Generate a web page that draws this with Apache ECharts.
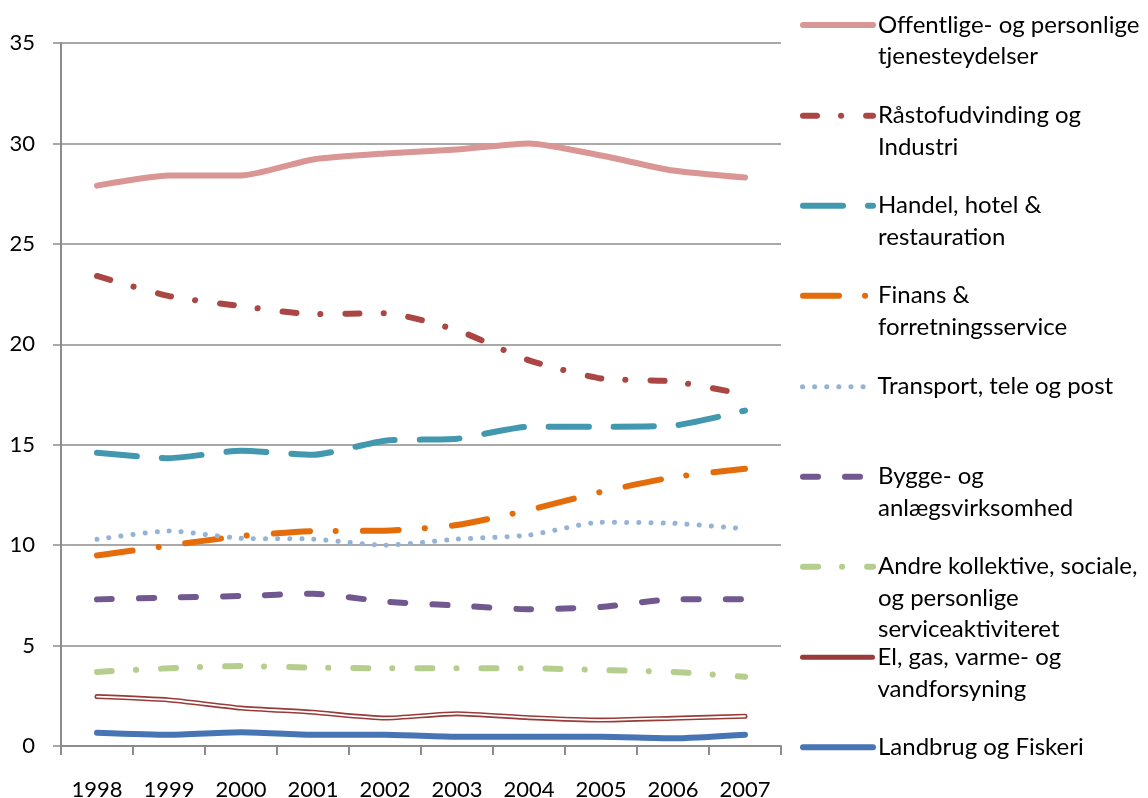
<!DOCTYPE html>
<html>
<head>
<meta charset="utf-8">
<title>Beskæftigelse fordelt på erhverv 1998-2007</title>
<script src="https://cdn.jsdelivr.net/npm/echarts@6/dist/echarts.min.js"></script>
<style>
    html, body { margin: 0; padding: 0; background: #fff; }
    #chart { width: 1148px; height: 798px; }
</style>
</head>
<body>
<div id="chart"></div>
<script>
(function(){

    // ---- data ----
    let years = ['1998', '1999', '2000', '2001', '2002', '2003', '2004', '2005', '2006', '2007'];

    let offentlige = [27.9, 28.4, 28.4, 29.2, 29.5, 29.7, 30.0, 29.4, 28.65, 28.3];
    let raastof    = [23.4, 22.4, 21.9, 21.5, 21.55, 20.7, 19.2, 18.3, 18.15, 17.5];
    let handel     = [14.6, 14.33, 14.7, 14.5, 15.2, 15.3, 15.9, 15.9, 15.95, 16.7];
    let finans     = [9.48, 9.98, 10.45, 10.7, 10.72, 11.0, 11.75, 12.65, 13.38, 13.8];
    let transport  = [10.29, 10.7, 10.34, 10.3, 10.0, 10.3, 10.5, 11.14, 11.09, 10.82];
    let bygge      = [7.3, 7.39, 7.47, 7.58, 7.19, 6.99, 6.81, 6.92, 7.3, 7.3];
    let andre      = [3.69, 3.87, 3.98, 3.9, 3.87, 3.87, 3.87, 3.78, 3.69, 3.45];
    let elgas      = [2.46, 2.29, 1.89, 1.68, 1.39, 1.61, 1.41, 1.29, 1.38, 1.48];
    let landbrug   = [0.66, 0.56, 0.68, 0.56, 0.56, 0.46, 0.46, 0.46, 0.38, 0.56];

    let yTicks = [0, 5, 10, 15, 20, 25, 30, 35];

    let legendLabels = [
        'Offentlige- og personlige\ntjenesteydelser',
        'Råstofudvinding og\nIndustri',
        'Handel, hotel &\nrestauration',
        'Finans &\nforretningsservice',
        'Transport, tele og post',
        'Bygge- og\nanlægsvirksomhed',
        'Andre kollektive, sociale,\nog personlige\nserviceaktiviteret',
        'El, gas, varme- og\nvandforsyning',
        'Landbrug og Fiskeri'
    ];

    // ---- styling ----
    let FONT = 'Lato, "Open Sans", sans-serif';
    let LINE_H = 31.5;
    let AXIS_GRAY = '#8c8c8c';

    let _series = [
        { name: 'Offentlige', data: offentlige, color: '#D99694', width: 6, type: 'solid' },
        { name: 'Raastof',    data: raastof,    color: '#AA4643', width: 6, type: [14, 24, 0.1, 25] },
        { name: 'Handel',     data: handel,     color: '#4198AF', width: 6, type: [40, 25] },
        { name: 'Finans',     data: finans,     color: '#E46C0A', width: 6, type: [36, 26, 0.1, 27] },
        { name: 'Transport',  data: transport,  color: '#95B3D7', width: 5, type: [0.1, 12] },
        { name: 'Bygge',      data: bygge,      color: '#71588F', width: 6, type: [15, 27] },
        { name: 'Andre',      data: andre,      color: '#B5CD8D', width: 6, type: [15, 24, 0.1, 25] },
        { name: 'ElGas',      data: elgas,      color: '#983A37', width: 5, type: 'solid' },
        { name: 'Landbrug',   data: landbrug,   color: '#4674B4', width: 6, type: 'solid' }
    ];

    let legendIconY = [25, 115.7, 205.7, 295.7, 386.7, 476.7, 566.7, 657.3, 747.3];

    let SMOOTH = 0.2;

    let _makeSeries = function(s){
        return {
            name: s.name,
            type: 'line',
            data: s.data,
            smooth: SMOOTH,
            symbol: 'none',
            color: s.color,
            lineStyle: {
                color: s.color,
                width: s.width,
                type: s.type,
                cap: 'round',
                join: 'round'
            }
        };
    };

    let seriesOpts = _series.map(_makeSeries);

    // El, gas: Excel double line -> same data once more as a thin white core
    seriesOpts.push({
        name: 'ElGasCore',
        type: 'line',
        data: elgas,
        smooth: SMOOTH,
        symbol: 'none',
        silent: true,
        lineStyle: { color: '#ffffff', width: 1.8, cap: 'round', join: 'round' }
    });

    let legendOpts = _series.map(function(s, i){
        let lines = legendLabels[i].split('\n').length;
        // legend text is centred on the icon; empty lines in front put the first line on it
        let label = new Array(lines).join('\n') + legendLabels[i];
        return {
            data: [s.name],
            left: 800,
            top: legendIconY[i] - (2 * lines - 1) * LINE_H / 2,
            orient: 'vertical',
            padding: 0,
            itemGap: 0,
            itemWidth: 70,
            itemHeight: 14,
            selectedMode: false,
            itemStyle: { opacity: 0 },
            lineStyle: { width: s.width, type: s.type, cap: 'round' },
            formatter: function(){ return label; },
            textStyle: {
                fontFamily: FONT,
                fontSize: 24,
                lineHeight: LINE_H,
                color: '#000'
            }
        };
    });

    let opts = {
        animation: false,
        backgroundColor: '#ffffff',
        grid: {
            left: 61,
            top: 43,
            width: 720,
            height: 703,
            containLabel: false,
            outerBoundsMode: 'none'
        },
        legend: legendOpts,
        xAxis: {
            type: 'category',
            data: years,
            boundaryGap: true,
            axisLine: { lineStyle: { color: AXIS_GRAY, width: 2 } },
            axisTick: { show: true, interval: 0, length: 9, lineStyle: { color: AXIS_GRAY, width: 2 } },
            axisLabel: {
                interval: 0,
                margin: 33,
                fontFamily: FONT,
                fontSize: 22,
                lineHeight: 22,
                color: '#000'
            },
            splitLine: { show: false }
        },
        yAxis: {
            type: 'value',
            min: yTicks[0],
            max: yTicks[yTicks.length - 1],
            interval: yTicks[1] - yTicks[0],
            axisLine: { show: true, lineStyle: { color: AXIS_GRAY, width: 2 } },
            axisTick: { show: true, length: 8, lineStyle: { color: AXIS_GRAY, width: 1.5 } },
            axisLabel: {
                margin: 26,
                fontFamily: FONT,
                fontSize: 22,
                color: '#000'
            },
            splitLine: { show: true, lineStyle: { color: AXIS_GRAY, width: 1.5 } }
        },
        series: seriesOpts
    };

    let chart = echarts.init(document.getElementById('chart'), null, { renderer: 'canvas' });
    chart.setOption(opts);

    window.addEventListener('resize', function(){
        chart.resize();
    });
})();
</script>
</body>
</html>
